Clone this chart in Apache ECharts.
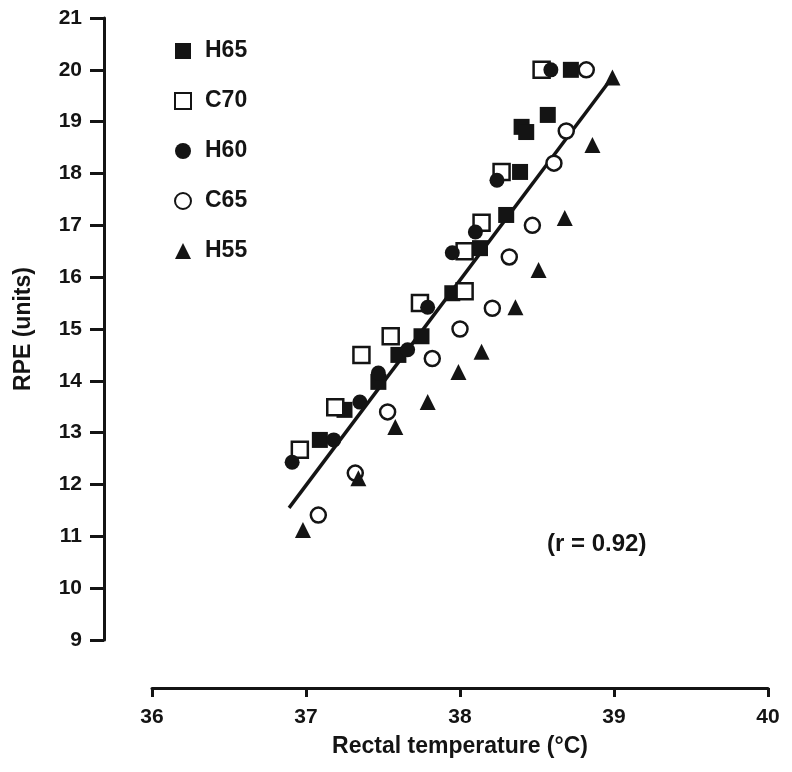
<!DOCTYPE html>
<html>
<head>
<meta charset="utf-8">
<script src="https://cdn.jsdelivr.net/npm/echarts@6/dist/echarts.min.js"></script>
<style>
  html, body { margin: 0; padding: 0; background: #fff; }
  #chart { width: 792px; height: 772px; }
</style>
</head>
<body>
<div id="chart"></div>
<script>
// RPE vs rectal temperature, five trial conditions: [temperature °C, RPE]
const seriesNames = ['H65', 'C70', 'H60', 'C65', 'H55'];

const h65 = [[38.72, 20.0], [38.57, 19.13], [38.40, 18.9], [38.43, 18.8], [38.39, 18.03], [38.30, 17.2],
  [38.13, 16.56], [37.95, 15.69], [37.75, 14.86], [37.60, 14.5], [37.47, 13.98], [37.25, 13.44], [37.09, 12.86]];
const c70 = [[38.53, 20.0], [38.27, 18.03], [38.14, 17.05], [38.03, 16.5], [38.03, 15.73], [37.74, 15.5],
  [37.55, 14.86], [37.36, 14.5], [37.19, 13.49], [36.96, 12.67]];
const h60 = [[38.59, 20.0], [38.24, 17.87], [38.10, 16.87], [37.95, 16.47], [37.79, 15.42], [37.66, 14.6],
  [37.47, 14.15], [37.35, 13.59], [37.18, 12.86], [36.91, 12.43]];
const c65 = [[38.82, 20.0], [38.69, 18.82], [38.61, 18.2], [38.47, 17.0], [38.32, 16.39], [38.21, 15.4],
  [38.0, 15.0], [37.82, 14.43], [37.53, 13.4], [37.32, 12.22], [37.08, 11.41]];
const h55 = [[38.99, 19.85], [38.86, 18.55], [38.68, 17.14], [38.51, 16.14], [38.36, 15.42], [38.14, 14.56],
  [37.99, 14.17], [37.79, 13.59], [37.58, 13.11], [37.34, 12.12], [36.98, 11.12]];

// Pooled regression line endpoints
const fitLine = [[36.89, 11.55], [38.96, 19.74]];
const rLabel = '(r = 0.92)';

const xTicks = { min: 36, max: 40, step: 1 };
const yTicks = { min: 9, max: 21, step: 1 };

const FONT = '"Liberation Sans", Arial, sans-serif';
const INK = '#141414';

const filled = { color: INK, borderColor: INK, borderWidth: 0, opacity: 1 };
const hollow = { color: '#fff', borderColor: INK, borderWidth: 2.5, opacity: 1 };

function scatter(name, data, symbol, size, style) {
  return {
    name, type: 'scatter', data, symbol, symbolSize: size,
    itemStyle: style, z: 3,
    emphasis: { disabled: true }
  };
}

const chart = echarts.init(document.getElementById('chart'), null, { renderer: 'canvas' });
chart.setOption({
  animation: false,
  backgroundColor: '#fff',
  grid: { left: 152, right: 24, top: 18, bottom: 132 },
  legend: {
    orient: 'vertical', left: 169, top: 34,
    itemWidth: 16, itemHeight: 16, itemGap: 26,
    data: seriesNames,
    textStyle: {
      fontFamily: FONT, fontWeight: 'bold', fontSize: 23, lineHeight: 24,
      color: INK, padding: [0, 0, 0, 9]
    },
    selectedMode: false
  },
  xAxis: {
    type: 'value', min: xTicks.min, max: xTicks.max, interval: xTicks.step,
    offset: 48,
    name: 'Rectal temperature (°C)', nameLocation: 'middle', nameGap: 47,
    nameTextStyle: { fontFamily: FONT, fontWeight: 'bold', fontSize: 23, color: INK },
    axisLine: { lineStyle: { color: INK, width: 3 } },
    axisTick: { length: 9, lineStyle: { color: INK, width: 3 } },
    axisLabel: { fontFamily: FONT, fontWeight: 'bold', fontSize: 21, color: INK, margin: 19 },
    splitLine: { show: false }
  },
  yAxis: {
    type: 'value', min: yTicks.min, max: yTicks.max, interval: yTicks.step,
    offset: 48,
    name: 'RPE (units)', nameLocation: 'middle', nameGap: 69, nameRotate: 90,
    nameTextStyle: { fontFamily: FONT, fontWeight: 'bold', fontSize: 23, color: INK },
    axisLine: { lineStyle: { color: INK, width: 3 } },
    axisTick: { length: 14, lineStyle: { color: INK, width: 3 } },
    axisLabel: { fontFamily: FONT, fontWeight: 'bold', fontSize: 21, color: INK, margin: 22 },
    splitLine: { show: false }
  },
  graphic: [{
    type: 'text', left: 547, top: 532,
    style: { text: rLabel, font: 'bold 24px ' + FONT, fill: INK }
  }],
  series: [
    {
      name: 'fit', type: 'line', data: fitLine, symbol: 'none', z: 2,
      lineStyle: { color: INK, width: 3.5 }, emphasis: { disabled: true }
    },
    scatter('H65', h65, 'rect', 16, filled),
    scatter('C70', c70, 'rect', 16, hollow),
    scatter('H60', h60, 'circle', 15, filled),
    scatter('C65', c65, 'circle', 15, hollow),
    scatter('H55', h55, 'triangle', 16, filled)
  ]
});
</script>
</body>
</html>
